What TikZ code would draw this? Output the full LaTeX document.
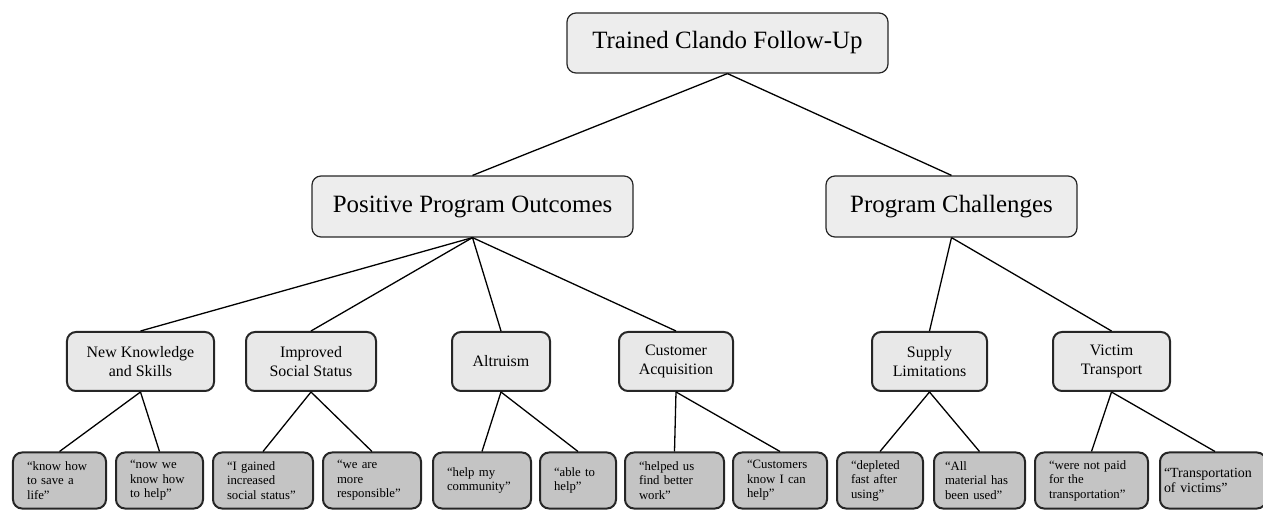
\documentclass[tikz,border=0pt]{standalone}
\usepackage{fontspec}
\setmainfont{Liberation Serif}

\tikzset{
  headbox/.style={draw=black!85, line width=1.2bp, rounded corners=9bp, fill=black!7,
    minimum height=60bp, inner sep=0pt, font=\fontsize{25}{30}\selectfont},
  themebox/.style={draw=black!85, line width=2bp, rounded corners=9bp, fill=black!9,
    minimum height=59bp, inner sep=0pt, align=center, font=\fontsize{16}{19}\selectfont},
  quotebox/.style={draw=black!85, line width=2bp, rounded corners=9bp, fill=black!23,
    minimum height=56bp, inner xsep=14bp, inner ysep=0pt, align=left,
    font=\fontsize{12.8}{14.6}\selectfont},
  link/.style={draw=black, line width=1.3bp},
}

\begin{document}
\begin{tikzpicture}[x=1bp,y=-1bp,line join=bevel]

\useasboundingbox (0,0) rectangle (1263,510);

% Node: root
\node[headbox, minimum width=321bp] (root) at (727.5,43) {Trained Clando Follow-Up};

% Node: outcomes, challenges
\node[headbox, minimum width=321bp, minimum height=61bp] (outcomes) at (472.5,206.5) {Positive Program Outcomes};
\node[headbox, minimum width=251bp, minimum height=61bp] (challenges) at (951.5,206.5) {Program Challenges};

% Node: themes
\node[themebox, minimum width=147bp] (knowledge) at (140.5,361.5) {New Knowledge\\and Skills};
\node[themebox, minimum width=130bp] (status) at (311,361.5) {Improved\\Social Status};
\node[themebox, minimum width=98bp] (altruism) at (501,361.5) {Altruism};
\node[themebox, minimum width=114bp] (customer) at (676,361.5) {Customer\\Acquisition};
\node[themebox, minimum width=115bp] (supply) at (929.5,361.5) {Supply\\Limitations};
\node[themebox, minimum width=117bp] (transport) at (1111.5,361.5) {Victim\\Transport};

% Node: quotes
\node[quotebox, text width=65bp] (q1) at (59.5,480.5) {“know how\\to save a\\life”};
\node[quotebox, text width=59bp] (q2) at (159.5,480.5) {“now we\\know how\\to help”};
\node[quotebox, text width=72bp] (q3) at (263,480.5) {“I gained\\increased\\social status”};
\node[quotebox, text width=70bp] (q4) at (372,480.5) {“we are\\more\\responsible”};
\node[quotebox, text width=70bp] (q5) at (482,480.5) {“help my\\community”};
\node[quotebox, text width=48bp] (q6) at (578,480.5) {“able to\\help”};
\node[quotebox, text width=71bp] (q7) at (674.5,480.5) {“helped us\\find better\\work”};
\node[quotebox, text width=66bp] (q8) at (780,480.5) {“Customers\\know I can\\help”};
\node[quotebox, text width=58bp] (q9) at (880,480.5) {“depleted\\fast after\\using”};
\node[quotebox, text width=69bp, inner xsep=11bp] (q10) at (979.5,480.5) {“All\\material has\\been used”};
\node[quotebox, text width=85bp] (q11) at (1091.5,480.5) {“were not paid\\for the\\transportation”};
\node[quotebox, text width=98bp, inner xsep=4bp, font=\fontsize{14}{15.5}\selectfont] (q12) at (1213,480.5) {“Transportation\\of victims”};

% Edge: root -> outcomes, challenges
\draw[link] (root.south) -- (outcomes.north);
\draw[link] (root.south) -- (challenges.north);

% Edge: outcomes -> themes
\draw[link] (outcomes.south) -- (knowledge.north);
\draw[link] (outcomes.south) -- (status.north);
\draw[link] (outcomes.south) -- (altruism.north);
\draw[link] (outcomes.south) -- (customer.north);

% Edge: challenges -> themes
\draw[link] (challenges.south) -- (supply.north);
\draw[link] (challenges.south) -- (transport.north);

% Edge: themes -> quotes
\draw[link] (knowledge.south) -- (q1.north);
\draw[link] (knowledge.south) -- (q2.north);
\draw[link] (status.south) -- (q3.north);
\draw[link] (status.south) -- (q4.north);
\draw[link] (altruism.south) -- (q5.north);
\draw[link] (altruism.south) -- (q6.north);
\draw[link] (customer.south) -- (q7.north);
\draw[link] (customer.south) -- (q8.north);
\draw[link] (supply.south) -- (q9.north);
\draw[link] (supply.south) -- (q10.north);
\draw[link] (transport.south) -- (q11.north);
\draw[link] (transport.south) -- ([xshift=2bp]q12.north);

\end{tikzpicture}
\end{document}
